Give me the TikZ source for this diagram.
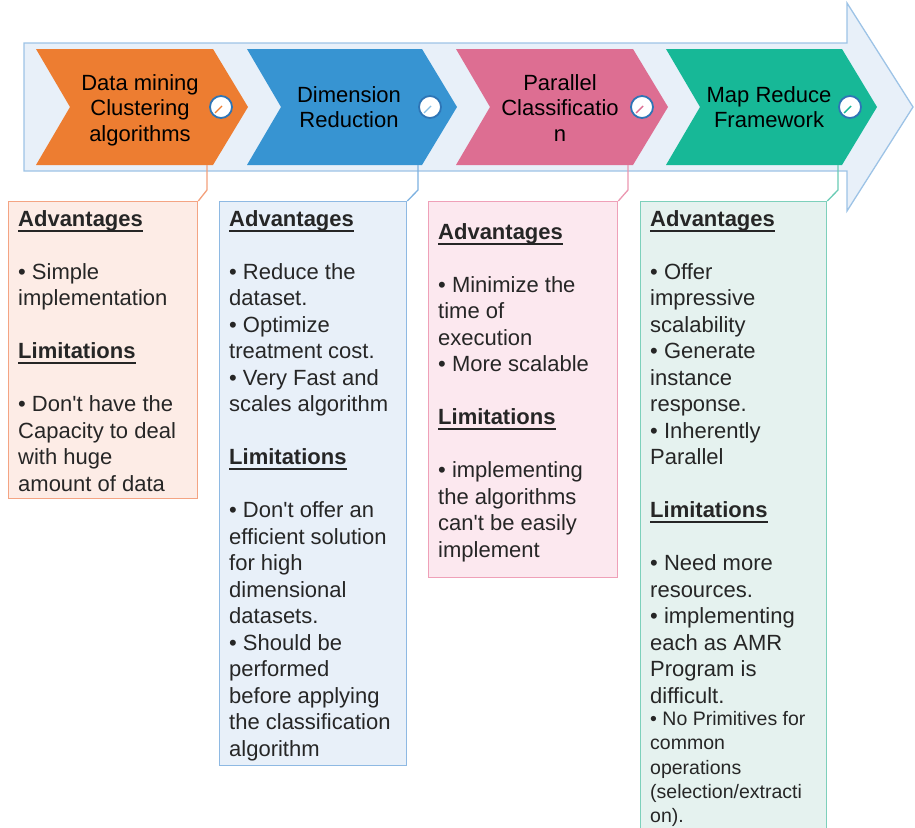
\documentclass[tikz,border=0pt]{standalone}
\usepackage{fontspec}
\setmainfont{Liberation Sans}
\definecolor{arrF}{HTML}{E8F0F9}
\definecolor{arrD}{HTML}{9DC3E6}
\definecolor{cO}{HTML}{ED7D31}
\definecolor{cB}{HTML}{3794D2}
\definecolor{cP}{HTML}{DD6E92}
\definecolor{cG}{HTML}{17B897}
\definecolor{oF}{HTML}{FDECE6}
\definecolor{oD}{HTML}{F4A483}
\definecolor{bF}{HTML}{E8F0F9}
\definecolor{bD}{HTML}{8EB9E3}
\definecolor{pF}{HTML}{FCE8EF}
\definecolor{pD}{HTML}{EFA0B8}
\definecolor{gF}{HTML}{E5F2EF}
\definecolor{gD}{HTML}{7DD0BB}
\definecolor{ringC}{HTML}{2E75B6}
\definecolor{txtC}{HTML}{262626}
\newsavebox\hdbox
\newcommand\hd[1]{\sbox\hdbox{\bfseries#1}\usebox\hdbox\llap{\rule[-5.5pt]{\wd\hdbox}{2pt}}}
\newcommand\bul{\textbullet\ }
\newcommand\ap{\textquotesingle}
\begin{document}
\begin{tikzpicture}[x=1pt,y=-1pt,
  txt/.style={anchor=north west, inner sep=0pt, align=left, font=\fontsize{22}{26.5}\selectfont, text=txtC},
  smalltxt/.style={anchor=north west, inner sep=0pt, align=left, font=\fontsize{19.5}{24.4}\selectfont, text=txtC},
  head/.style={anchor=north, inner sep=0pt, align=center, font=\fontsize{22}{25.5}\selectfont, text=black},
  boxst/.style={anchor=north west, inner sep=0pt, rectangle, line width=1.3pt},
  conn/.style={line width=1.3pt},
  ring/.style={circle, minimum size=22pt, inner sep=0pt, draw=ringC, line width=1.8pt, fill=white},
  tick/.style={line width=1.4pt}]
\clip (0,0) rectangle (915,827);
% big arrow
\draw[fill=arrF, draw=arrD, line width=1.3pt] (24,43) -- (847,43) -- (847,3) -- (913,107) -- (847,211) -- (847,171) -- (24,171) -- cycle;
% chevrons
\fill[cO] (36,49) -- (213,49) -- (248,107) -- (213,165) -- (36,165) -- (70,107) -- cycle;
\fill[cB] (247,49) -- (422,49) -- (457,107) -- (422,165) -- (247,165) -- (281,107) -- cycle;
\fill[cP] (456,49) -- (633,49) -- (668,107) -- (633,165) -- (456,165) -- (490,107) -- cycle;
\fill[cG] (666,49) -- (842,49) -- (877,107) -- (842,165) -- (666,165) -- (700,107) -- cycle;
% header labels
\node[head] (h1) at (140,74) {Data mining\\Clustering\\algorithms};
\node[head] (h2) at (349,86) {Dimension\\Reduction};
\node[head] (h3) at (560,74) {Parallel\\Classificatio\\n};
\node[head] (h4) at (769,86) {Map Reduce\\Framework};
% rings
\node[ring] (r1) at (221,107) {};
\node[ring] (r2) at (430,107) {};
\node[ring] (r3) at (642,107) {};
\node[ring] (r4) at (850,107) {};
\draw[tick, cO] ([shift={(1,-1)}]r1.center) -- ++(-7,7);
\draw[tick, cB!60] ([shift={(1,-1)}]r2.center) -- ++(-7,7);
\draw[tick, cP] ([shift={(1,-1)}]r3.center) -- ++(-7,7);
\draw[tick, cG] ([shift={(1,-1)}]r4.center) -- ++(-7,7);
% boxes
\node[boxst, draw=oD, fill=oF, minimum width=189pt, minimum height=297pt] (bo) at (8,201) {};
\node[boxst, draw=bD, fill=bF, minimum width=187pt, minimum height=564pt] (bb) at (219,201) {};
\node[boxst, draw=pD, fill=pF, minimum width=189pt, minimum height=376pt] (bp) at (428,201) {};
\node[boxst, draw=gD, fill=gF, minimum width=186pt, minimum height=660pt] (bg) at (640,201) {};
% connectors
\coordinate (k1) at (207,165);
\coordinate (k2) at (418,165);
\coordinate (k3) at (628,165);
\coordinate (k4) at (838,165);
\draw[conn, oD!90!cO] (k1) -- ++(0,25) -- (bo.north east);
\draw[conn, bD!80!cB] (k2) -- ++(0,25) -- (bb.north east);
\draw[conn, pD!80!cP] (k3) -- ++(0,25) -- (bp.north east);
\draw[conn, gD!80!cG] (k4) -- ++(0,25) -- (bg.north east);
% texts
\node[txt] (t1) at (18,210) {\hd{Advantages}\\[26.5pt]
\bul Simple\\
implementation\\[26.5pt]
\hd{Limitations}\\[26.5pt]
\bul Don\ap t have the\\
Capacity to deal\\
with huge\\
amount of data};
\node[txt] (t2) at (229,210) {\hd{Advantages}\\[26.5pt]
\bul Reduce the\\
dataset.\\
\bul Optimize\\
treatment cost.\\
\bul Very Fast and\\
scales algorithm\\[26.5pt]
\hd{Limitations}\\[26.5pt]
\bul Don\ap t offer an\\
efficient solution\\
for high\\
dimensional\\
datasets.\\
\bul Should be\\
performed\\
before applying\\
the classification\\
algorithm};
\node[txt] (t3) at (438,223) {\hd{Advantages}\\[26.5pt]
\bul Minimize the\\
time of\\
execution\\
\bul More scalable\\[26.5pt]
\hd{Limitations}\\[26.5pt]
\bul implementing\\
the algorithms\\
can\ap t be easily\\
implement};
\node[txt] (t4) at (650,210) {\hd{Advantages}\\[26.5pt]
\bul Offer\\
impressive\\
scalability\\
\bul Generate\\
instance\\
response.\\
\bul Inherently\\
Parallel\\[26.5pt]
\hd{Limitations}\\[26.5pt]
\bul Need more\\
resources.\\
\bul implementing\\
each as AMR\\
Program is\\
difficult.};
\node[smalltxt] (t5) at (650,711) {\bul No Primitives for\\
common\\
operations\\
(selection/extracti\\
on).};
\end{tikzpicture}
\end{document}
